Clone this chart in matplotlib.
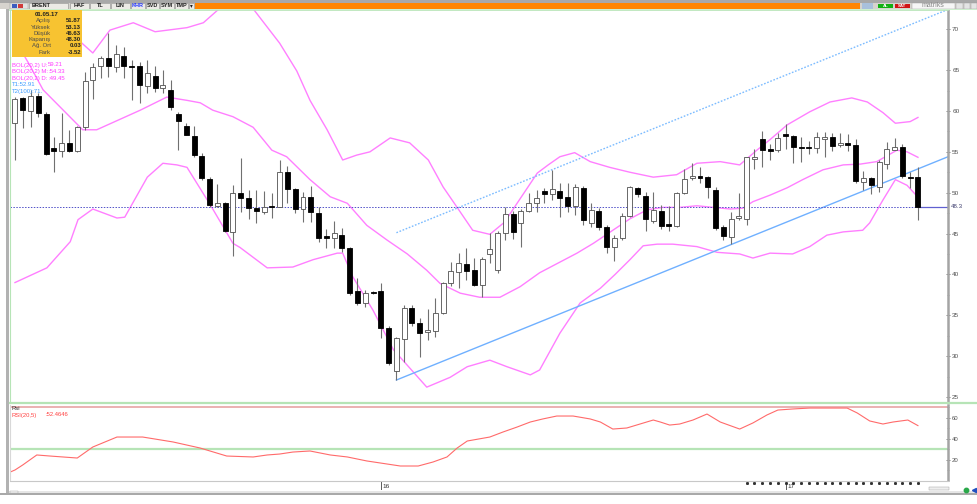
import matplotlib
matplotlib.use("Agg")
import matplotlib.pyplot as plt
import numpy as np
import pandas as pd
from matplotlib.patches import Rectangle
from matplotlib.ticker import MultipleLocator

plt.rcParams["font.family"] = ["Liberation Sans", "DejaVu Sans"]

W, H = 977, 504
OUTPUT = "out.png"

# weekly Brent candles, first week 09.02.2015 .. last week 01.05.2017
FIRST_WEEK = "2015-02-09"
opens = [58.53, 61.59, 60.00, 61.84, 59.63, 55.47, 55.10, 56.08, 55.10, 58.04,
         63.80, 65.51, 66.49, 65.39, 66.73, 65.51, 65.51, 63.06, 64.28, 62.82,
         62.57, 59.63, 58.16, 56.94, 54.49, 51.68, 48.37, 48.74, 45.19, 49.96,
         49.35, 48.13, 47.64, 48.37, 48.25, 52.53, 50.45, 48.00, 49.47, 47.52,
         44.70, 44.46, 44.82, 43.23, 37.97, 36.50, 37.85, 37.97, 33.44, 28.18,
         32.09, 35.89, 34.05, 32.95, 33.07, 35.28, 38.98, 40.29, 41.27, 40.54,
         38.70, 42.50, 40.54, 45.07, 47.39, 46.29, 47.76, 48.74, 50.21, 49.84,
         50.21, 49.47, 48.37, 50.58, 46.29, 47.76, 45.80, 43.35, 44.46, 47.15,
         50.58, 49.60, 46.54, 47.76, 46.17, 45.92, 49.96, 51.80, 52.04, 51.92,
         50.33, 45.80, 44.58, 46.90, 46.78, 54.12, 56.57, 55.35, 55.23, 57.18,
         56.94, 55.59, 55.59, 55.47, 56.57, 56.82, 55.84, 56.08, 55.84, 51.31,
         51.80, 50.70, 53.51, 55.23, 55.59, 51.92, 51.87]
highs = [61.71, 61.71, 62.57, 62.20, 59.88, 56.82, 59.76, 57.67, 58.16, 64.77,
         65.88, 66.73, 69.55, 68.08, 67.83, 66.24, 66.00, 66.24, 65.51, 65.02,
         63.80, 59.88, 58.53, 58.16, 54.86, 51.92, 51.06, 48.86, 50.94, 54.25,
         50.33, 50.33, 50.21, 49.96, 54.00, 53.27, 50.58, 50.09, 50.82, 48.25,
         45.56, 46.54, 45.68, 43.30, 39.56, 38.09, 37.97, 38.95, 33.70, 32.34,
         36.25, 36.25, 34.66, 35.76, 37.11, 39.10, 41.52, 42.62, 43.23, 42.00,
         42.13, 45.07, 45.31, 48.25, 47.76, 48.00, 49.96, 50.33, 50.58, 52.78,
         51.19, 51.19, 51.06, 50.82, 48.74, 48.13, 46.05, 44.82, 47.52, 50.82,
         50.70, 50.09, 50.09, 48.49, 48.37, 50.09, 52.90, 53.64, 53.15, 52.04,
         50.70, 46.05, 47.64, 49.96, 54.40, 55.35, 57.55, 55.96, 57.31, 58.41,
         57.06, 56.82, 56.33, 57.43, 57.43, 57.31, 57.31, 57.18, 56.57, 52.66,
         51.92, 54.00, 56.21, 56.69, 55.96, 52.53, 53.13]
lows = [54.00, 57.92, 58.04, 59.27, 54.61, 52.53, 54.37, 54.98, 54.98, 57.67,
        61.47, 64.04, 64.16, 64.77, 64.04, 61.35, 60.98, 62.20, 62.33, 62.20,
        60.12, 55.23, 57.00, 54.37, 51.55, 48.25, 48.25, 45.19, 42.25, 47.64,
        46.78, 46.29, 47.39, 46.90, 48.20, 48.74, 47.52, 46.41, 46.41, 43.97,
        43.23, 43.23, 42.74, 37.48, 36.25, 36.01, 37.60, 32.22, 28.90, 27.07,
        29.28, 33.68, 29.89, 31.97, 32.34, 35.20, 38.58, 38.34, 39.31, 38.58,
        37.23, 41.40, 40.17, 44.21, 44.33, 43.35, 47.64, 47.64, 48.74, 49.10,
        47.03, 47.64, 47.27, 46.05, 45.80, 45.43, 42.62, 41.64, 44.21, 47.03,
        49.47, 45.31, 46.29, 45.56, 45.31, 45.80, 49.84, 51.55, 51.19, 49.35,
        45.43, 44.21, 43.72, 46.66, 46.05, 52.90, 53.15, 54.00, 54.98, 55.35,
        53.64, 53.76, 54.74, 54.86, 54.37, 55.10, 55.59, 55.10, 51.19, 50.33,
        49.84, 50.09, 52.90, 55.20, 51.80, 50.58, 46.63]
closes = [61.47, 60.12, 61.84, 59.76, 54.74, 55.10, 56.08, 55.10, 58.04, 63.67,
          65.39, 66.49, 65.51, 66.98, 65.51, 65.40, 63.18, 64.65, 62.82, 63.18,
          60.49, 58.78, 57.06, 54.61, 51.80, 48.49, 48.74, 45.31, 49.96, 49.35,
          48.13, 47.76, 48.25, 48.30, 52.53, 50.45, 48.00, 49.47, 47.64, 44.46,
          44.46, 45.07, 43.23, 37.72, 36.50, 37.72, 37.72, 33.44, 29.16, 32.22,
          35.89, 34.05, 32.83, 33.20, 35.28, 38.98, 40.42, 41.40, 40.42, 38.70,
          41.88, 43.11, 45.07, 47.39, 45.19, 47.76, 48.74, 49.35, 49.84, 50.45,
          49.35, 48.37, 50.70, 46.66, 47.88, 45.80, 43.35, 44.46, 47.15, 50.70,
          49.84, 46.78, 47.88, 45.92, 45.92, 49.96, 51.68, 52.04, 51.80, 50.70,
          45.68, 44.70, 46.78, 47.15, 54.37, 54.37, 55.23, 55.10, 56.70, 56.94,
          55.59, 55.47, 55.47, 56.82, 56.82, 55.71, 56.08, 55.84, 51.43, 51.80,
          50.94, 53.76, 55.35, 55.59, 52.04, 51.80, 48.30]

# Bollinger (20,2) bands: week position -> price
bol_upper_x = [0.0, 4.1, 7.1, 8.6, 10.0, 12.2, 15.2, 18.0, 22.1, 24.2,
               26.1, 28.4, 30.6, 34.0, 36.2, 37.9, 40.1, 42.1, 43.9, 45.6,
               48.2, 50.7, 53.1, 55.0, 56.8, 58.8, 61.0, 62.9, 64.5, 67.1,
               68.5, 70.0, 71.9, 73.9, 76.4, 79.0, 82.0, 85.0, 87.6, 90.6,
               93.1, 95.3, 97.0, 99.2, 102.1, 104.7, 107.5, 109.5, 111.5, 113.1,
               115.0, 116.0]
bol_upper = [78.0, 72.1, 69.9, 68.3, 67.1, 69.9, 70.8, 69.7, 70.2, 70.8,
             72.4, 74.8, 72.5, 68.3, 64.9, 61.3, 57.7, 54.0, 54.6, 55.0,
             56.7, 56.1, 54.0, 50.7, 48.2, 45.4, 44.9, 46.4, 48.7, 52.4,
             53.4, 54.4, 54.9, 53.8, 53.1, 52.5, 51.9, 52.2, 53.6, 53.8,
             53.4, 55.2, 56.5, 58.3, 59.9, 61.1, 61.6, 61.1, 59.8, 58.5,
             58.7, 59.21]
bol_mid_x = [0.0, 1.9, 3.6, 8.7, 10.5, 16.1, 19.5, 22.1, 23.8, 25.4,
             28.0, 30.6, 33.0, 34.9, 37.9, 40.5, 42.7, 45.2, 47.8, 50.4,
             52.9, 54.6, 57.2, 59.7, 62.3, 64.9, 67.4, 70.0, 72.2, 74.3,
             76.8, 79.0, 81.2, 83.2, 85.4, 87.6, 89.7, 91.9, 93.5, 94.8,
             97.0, 99.2, 101.2, 103.8, 106.4, 108.6, 110.7, 113.3, 114.6, 116.0]
bol_mid = [68.7, 65.6, 62.6, 57.7, 57.7, 60.1, 61.7, 61.3, 61.0, 60.1,
           59.3, 58.0, 55.2, 54.4, 51.6, 49.5, 48.7, 46.0, 44.2, 42.5,
           40.5, 38.9, 37.7, 37.2, 37.2, 38.5, 40.2, 41.5, 42.6, 43.8,
           45.4, 46.8, 47.9, 48.2, 48.2, 48.4, 48.2, 48.0, 48.1, 48.9,
           49.7, 50.6, 51.6, 52.8, 53.4, 53.5, 53.8, 55.2, 55.0, 54.33]
bol_low_x = [0.0, 4.1, 7.1, 8.1, 10.0, 13.1, 14.1, 17.0, 19.0, 20.8,
             22.1, 25.1, 28.0, 28.9, 32.4, 35.7, 38.3, 41.4, 42.1, 43.4,
             46.0, 48.6, 52.9, 55.9, 58.1, 61.0, 63.2, 66.2, 67.4, 70.0,
             72.6, 75.2, 77.1, 79.0, 80.7, 82.5, 84.5, 87.6, 90.2, 93.1,
             94.8, 97.0, 99.9, 102.1, 104.3, 106.4, 108.9, 109.8, 111.5, 113.1,
             114.6, 116.0]
bol_low = [39.0, 40.8, 44.0, 46.7, 48.0, 46.9, 47.0, 51.9, 53.6, 53.4,
           53.1, 48.5, 43.8, 43.3, 40.8, 40.9, 41.8, 42.6, 42.6, 39.7,
           35.6, 30.8, 26.2, 27.4, 28.7, 29.5, 28.7, 27.7, 28.3, 32.8,
           36.5, 38.3, 40.0, 41.8, 43.5, 43.7, 43.7, 43.4, 42.7, 42.5,
           42.0, 42.6, 42.5, 43.4, 44.8, 45.2, 45.4, 46.3, 49.1, 51.6,
           50.9, 49.45]

# trend line T1 and its parallel T2 (anchor week, value)
trend_x = [49, 116]
t1_vals = [27.07, 52.91]
t2_vals = [45.10, 70.94]

# RSI(20,5)
rsi_x = [-0.6, 0.0, 1.0, 2.8, 4.5, 8.0, 10.0, 13.1, 16.4, 20.3,
         23.8, 27.2, 30.6, 32.4, 34.0, 35.7, 37.9, 40.5, 42.7, 45.2,
         47.8, 49.5, 51.8, 53.7, 55.5, 56.8, 58.1, 61.0, 62.7, 64.5,
         66.2, 67.8, 69.6, 71.7, 73.9, 75.2, 76.8, 78.6, 80.3, 82.0,
         82.9, 84.1, 85.4, 87.1, 88.9, 90.6, 93.1, 94.8, 96.6, 98.0,
         99.9, 102.1, 104.3, 106.9, 108.2, 109.8, 111.5, 112.8, 114.7, 116.0]
rsi_vals = [8.3, 10.2, 15.0, 24.5, 23.5, 21.6, 32.1, 41.6, 41.6, 36.9,
            31.1, 23.5, 22.6, 24.5, 25.4, 27.3, 28.3, 24.5, 22.6, 18.8,
            15.9, 14.0, 14.0, 17.8, 22.6, 31.1, 37.8, 41.6, 46.4, 51.1,
            55.9, 58.8, 61.6, 61.6, 58.8, 55.9, 49.2, 50.2, 54.0, 57.8,
            55.9, 53.0, 54.0, 57.8, 63.5, 55.9, 49.2, 55.0, 62.6, 67.3,
            68.3, 69.2, 69.2, 69.2, 64.5, 56.9, 54.0, 55.9, 57.8, 52.46]
rsi_levels = [30, 70]

last_close = 48.30
info_date = "01.05.17"
info_labels = ["Açılış", "Yüksek", "Düşük", "Kapanış", "Ağ. Ort", "Fark"]
info_values = ["51.87", "53.13", "46.63", "48.30", "0.03", "-3.52"]
legend_rows = [("BOL(20,2) U:", "59.21"), ("BOL(20,2) M:", ":54.33"), ("BOL(20,2) D:", ":49.45")]
trend_rows = ["T1:52.91", "T2(100):71."]

price_ticks = [25, 30, 35, 40, 45, 50, 55, 60, 65, 70]
rsi_ticks = [20, 40, 60]
marked_weeks = list(range(94, 117))

toolbar_buttons = [("BRENT", 29, 68), ("HAF", 70, 89), ("TL", 90, 110), ("LIN", 111, 130),
                   ("KHR", 131, 145), ("SVD", 146, 159), ("SYM", 160, 174), ("TMP", 175, 188),
                   ("▾", 189, 194)]

# pixel geometry of the panels
PLOT_X0, PLOT_X1 = 10, 948
XLIM = (-0.64, 119.86)
PRICE_LIM = (24.38, 72.36)
RSI_LIM = (0.67, 72.1)

C_BAND = "#ff7fff"
C_TREND = "#6fb0ff"
C_GREEN = "#b6e4b6"
C_AXIS = "#a4a4a4"


def px_axes(fig, x0, y0, x1, y1):
    return fig.add_axes([x0 / W, 1 - y1 / H, (x1 - x0) / W, (y1 - y0) / H])


def style_right_axis(ax, labelsize=4.6):
    ax.yaxis.tick_right()
    ax.tick_params(axis="y", which="major", length=3, width=0.6, color="#707070",
                   direction="inout", labelsize=labelsize, labelcolor="#505050", pad=1.5)
    ax.tick_params(axis="y", which="minor", length=2, width=0.5, color="#808080",
                   direction="inout")
    ax.tick_params(axis="x", bottom=False, labelbottom=False)
    ax.spines["right"].set_color(C_AXIS)
    ax.spines["right"].set_linewidth(1.8)


def main():
    fig = plt.figure(figsize=(W / 100, H / 100), dpi=100)
    fig.patch.set_facecolor("white")

    n = len(closes)
    x = np.arange(n)
    o = np.array(opens)
    c = np.array(closes)
    up = c >= o
    body_lo = np.minimum(o, c)
    body_h = np.maximum(np.abs(c - o), 0.13)

    # --- price panel ---
    ax = px_axes(fig, PLOT_X0, 10, PLOT_X1, 402)
    ax.set_xlim(*XLIM)
    ax.set_ylim(*PRICE_LIM)
    style_right_axis(ax)
    ax.set_yticks(price_ticks)
    ax.set_yticklabels([str(t) for t in price_ticks])
    ax.yaxis.set_minor_locator(MultipleLocator(2.5))
    ax.spines["top"].set_color(C_GREEN)
    ax.spines["top"].set_linewidth(1.2)
    ax.spines["left"].set_color(C_GREEN)
    ax.spines["bottom"].set_visible(False)

    ax.plot(bol_upper_x, bol_upper, color=C_BAND, lw=1.0, zorder=2)
    ax.plot(bol_mid_x, bol_mid, color=C_BAND, lw=1.0, zorder=2)
    ax.plot(bol_low_x, bol_low, color=C_BAND, lw=1.0, zorder=2)

    slope = (t1_vals[1] - t1_vals[0]) / (trend_x[1] - trend_x[0])
    x_end = XLIM[1]
    ax.plot([trend_x[0], x_end], [t1_vals[0], t1_vals[1] + slope * (x_end - trend_x[1])],
            color=C_TREND, lw=1.0, zorder=2)
    ax.plot([trend_x[0], x_end], [t2_vals[0], t2_vals[1] + slope * (x_end - trend_x[1])],
            color="#7cbcff", lw=1.0, ls=(0, (1.2, 1.2)), zorder=2)

    ax.plot([XLIM[0], n - 1], [last_close, last_close], color="#5050c8", lw=0.7,
            ls=(0, (1.5, 1.5)), zorder=2)
    ax.plot([n - 1, XLIM[1]], [last_close, last_close], color="#6060d0", lw=0.9, zorder=2)

    ax.vlines(x, lows, highs, color="#707070", lw=0.8, zorder=3)
    ax.bar(x[up], body_h[up], bottom=body_lo[up], width=0.64, color="white",
           edgecolor="#505050", lw=0.6, zorder=4)
    ax.bar(x[~up], body_h[~up], bottom=body_lo[~up], width=0.64, color="black",
           edgecolor="black", lw=0.6, zorder=4)

    # --- RSI panel ---
    ar = px_axes(fig, PLOT_X0, 405, PLOT_X1, 480)
    ar.set_xlim(*XLIM)
    ar.set_ylim(*RSI_LIM)
    style_right_axis(ar, labelsize=4.3)
    ar.set_yticks(rsi_ticks)
    ar.set_yticklabels([str(t) for t in rsi_ticks])
    ar.yaxis.set_minor_locator(MultipleLocator(10))
    ar.spines["top"].set_visible(False)
    ar.spines["bottom"].set_visible(False)
    ar.spines["left"].set_color("#d8d8d8")
    ar.axhline(rsi_levels[1], color="#e8a4a4", lw=1.2, zorder=1)
    ar.axhline(rsi_levels[0], color=C_GREEN, lw=1.6, zorder=1)
    ar.plot(rsi_x, rsi_vals, color="#ff6a6a", lw=0.8, zorder=2)

    # --- date strip ---
    ad = px_axes(fig, PLOT_X0, 481, PLOT_X1, 490)
    ad.set_xlim(*XLIM)
    ad.set_ylim(0, 1)
    ad.axis("off")
    weeks = pd.date_range(FIRST_WEEK, periods=n, freq="7D")
    years = weeks.year
    for i in range(1, n):
        if years[i] != years[i - 1]:
            ad.plot([i, i], [0.0, 1.0], color="#404040", lw=0.6)
            ad.text(i + 0.25, 0.35, f"{years[i] % 100:02d}", fontsize=4.6,
                    color="#303030", va="center", ha="left")
    ad.plot(marked_weeks, [0.8] * len(marked_weeks), ls="none", marker="s",
            ms=1.1, color="#303030")

    # --- frame, toolbar and overlays in pixel coordinates ---
    ov = fig.add_axes([0, 0, 1, 1])
    ov.set_xlim(0, W)
    ov.set_ylim(H, 0)
    ov.axis("off")
    ov.set_zorder(10)
    ov.patch.set_alpha(0)

    def rect(x0, y0, w, h, fc, ec="none", lw=0.0):
        ov.add_patch(Rectangle((x0, y0), w, h, facecolor=fc, edgecolor=ec, lw=lw))

    rect(0, 0, W, 2.5, "#a8a8a8")
    rect(0, 2.5, W, 6.5, "#d6d3ce")
    rect(10, 3, 18, 5.5, "#e2e2e2", "#909090", 0.3)
    rect(12, 4, 5, 3.5, "#3c5cc0")
    rect(18, 4, 5, 3.5, "#d03a3a")
    for label, x0, x1 in toolbar_buttons:
        rect(x0, 3, x1 - x0, 5.5, "#eceae6", "#8a8a8a", 0.4)
        color = "#2a3cff" if label == "KHR" else "#202020"
        if label == "BRENT":
            ov.text(x0 + 3, 5.9, label, fontsize=4.0, fontweight="bold", color=color,
                    ha="left", va="center")
        else:
            ov.text((x0 + x1) / 2, 5.9, label, fontsize=4.0, fontweight="bold",
                    color=color, ha="center", va="center")
    rect(195, 3, 665, 5.5, "#ff8500")
    rect(862, 3, 11, 5.5, "#a8c0dc")
    rect(878, 3.5, 15, 4.5, "#12b012")
    ov.text(885.5, 5.8, "AL", fontsize=3.2, color="white", ha="center", va="center",
            fontweight="bold")
    rect(895, 3.5, 15, 4.5, "#d01414")
    ov.text(902.5, 5.8, "SAT", fontsize=3.2, color="white", ha="center", va="center",
            fontweight="bold")
    rect(912, 3, 43, 5.5, "#f6f6f6", "#9a9a9a", 0.3)
    ov.text(933, 5.6, "matriks", fontsize=5.0, color="#8a8a8a", ha="center", va="center")
    rect(956, 3, 7, 5.5, "#e4e4e4", "#9a9a9a", 0.3)
    rect(964, 3, 6, 5.5, "#e4e4e4", "#9a9a9a", 0.3)
    rect(971, 3, 6, 5.5, "#e4e4e4", "#9a9a9a", 0.3)
    rect(10, 9, W - 10, 1.2, "#cdeecd")

    rect(6, 9, 2.5, 486, "#b2b2b2")
    ov.plot([10, W], [402.6, 402.6], color=C_GREEN, lw=1.6)
    ov.plot([10, PLOT_X1], [480.6, 480.6], color="#c8c8c8", lw=0.8)
    rect(8.5, 490.5, W - 8.5, 2.2, "#e6e6e6")
    rect(10, 490.6, 8, 2, "#f4f4f4", "#a0a0a0", 0.3)
    rect(0, 492.7, W, 2.6, "#a9a9a9")
    rect(929, 486.5, 20, 3.6, "#eeeeee", "#999999", 0.3)
    ov.plot([966], [489.5], marker="o", ms=3.2, color="#2aa84a")
    ov.plot([974], [489.5], marker="<", ms=3.0, color="#2050c0")

    # info box
    rect(12, 10.3, 70, 46.5, "#f7c331")
    ov.text(47, 15, info_date, fontsize=4.4, fontweight="bold", color="#202020",
            ha="center", va="center")
    for k, (lab, val) in enumerate(zip(info_labels, info_values)):
        yy = 20.8 + k * 6.25
        ov.text(50.5, yy, lab, fontsize=4.3, color="#4a4a4a", ha="right", va="center")
        ov.text(81, yy, val, fontsize=4.3, fontweight="bold", color="#202020",
                ha="right", va="center")

    for k, (lab, val) in enumerate(legend_rows):
        yy = 65 + k * 6.7
        ov.text(11.5, yy, lab, fontsize=4.3, color="#ff3cff", ha="left", va="center")
        ov.text(48, yy, val, fontsize=4.3, color="#ff3cff", ha="left", va="center")
    for k, lab in enumerate(trend_rows):
        ov.text(11.5, 85 + k * 6.3, lab, fontsize=4.3, color="#3c9cff", ha="left",
                va="center")

    y_last = 10 + (PRICE_LIM[1] - last_close) / (PRICE_LIM[1] - PRICE_LIM[0]) * 392
    ov.text(951, y_last, f"{last_close:.1f}", fontsize=4.4, color="#404070",
            ha="left", va="center",
            bbox=dict(boxstyle="square,pad=0.1", fc="white", ec="none"))

    ov.text(12, 408.5, "Rsi", fontsize=4.2, color="#303030", ha="left", va="center")
    ov.text(12, 415, "RSI(20,5)", fontsize=4.2, color="#ff4040", ha="left", va="center")
    ov.text(45, 415, ":52.4646", fontsize=4.2, color="#ff4040", ha="left", va="center")

    fig.savefig(OUTPUT, dpi=100, facecolor="white")
    plt.close(fig)


if __name__ == "__main__":
    main()
